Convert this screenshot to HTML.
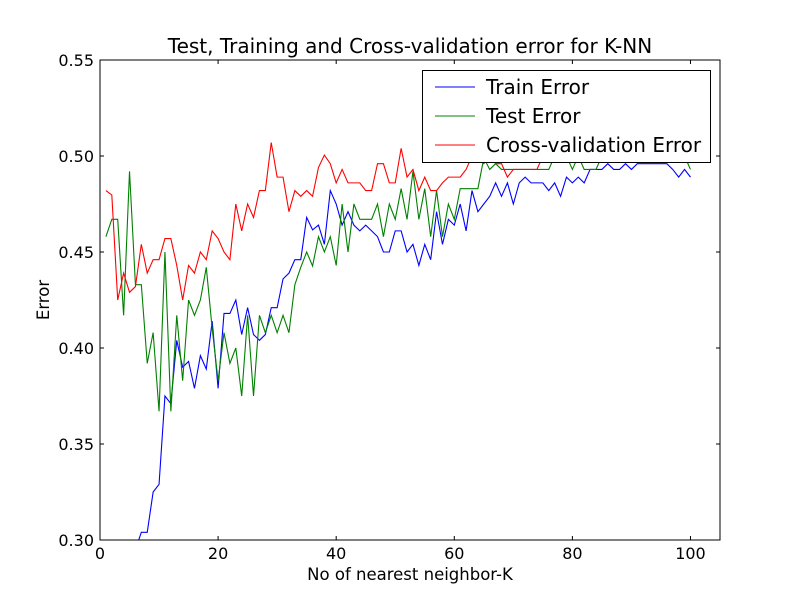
<!DOCTYPE html>
<html><head><meta charset="utf-8"><style>
body{margin:0;background:#fff;}
svg text{font-family:"DejaVu Sans","Liberation Sans",sans-serif;}
</style></head><body>
<svg id="chart" width="800" height="600" xmlns="http://www.w3.org/2000/svg">
<rect width="800" height="600" fill="#fff"/>
<defs><clipPath id="plotclip"><rect x="100" y="60" width="620" height="480"/></clipPath></defs>
<text x="410" y="53" text-anchor="middle" font-size="20">Test, Training and Cross-validation error for K-NN</text>
<text x="410" y="580" text-anchor="middle" font-size="16.5">No of nearest neighbor-K</text>
<text x="49" y="300" text-anchor="middle" font-size="16.5" transform="rotate(-90 49 300)">Error</text>
<g id="ticks"></g>
<g id="series" clip-path="url(#plotclip)"></g>
<rect x="100" y="60" width="620" height="480" fill="none" stroke="#000" stroke-width="1"/>
<g>
<rect x="422.5" y="70.5" width="288" height="92" fill="#fff" stroke="#000"/>
<line x1="435" y1="87" x2="475" y2="87" stroke="#0000ff"/>
<text x="486" y="94" font-size="20">Train Error</text>
<line x1="435" y1="116" x2="475" y2="116" stroke="#008000"/>
<text x="486" y="123" font-size="20">Test Error</text>
<line x1="435" y1="145" x2="475" y2="145" stroke="#ff0000"/>
<text x="486" y="152" font-size="20">Cross-validation Error</text>
</g>
</svg>
<script>
const xTicks=[0,20,40,60,80,100];
const yTicks=[0.30,0.35,0.40,0.45,0.50,0.55];
const yTickLabels=["0.30","0.35","0.40","0.45","0.50","0.55"];
const trainErr=[0.28,0.28,0.28,0.28,0.29,0.295,0.304,0.304,0.325,0.329,0.375,0.371,0.404,0.390,0.393,0.379,0.396,0.389,0.414,0.379,0.418,0.418,0.425,0.407,0.421,0.407,0.404,0.407,0.421,0.421,0.436,0.439,0.446,0.446,0.468,0.4615,0.464,0.454,0.482,0.475,0.464,0.471,0.464,0.461,0.464,0.461,0.458,0.450,0.450,0.461,0.461,0.450,0.454,0.443,0.454,0.446,0.471,0.454,0.467,0.464,0.475,0.461,0.482,0.471,0.475,0.479,0.486,0.479,0.486,0.475,0.486,0.489,0.486,0.486,0.486,0.482,0.486,0.479,0.489,0.486,0.489,0.486,0.493,0.493,0.493,0.496,0.493,0.493,0.496,0.493,0.496,0.496,0.496,0.496,0.496,0.496,0.493,0.489,0.493,0.489];
const testErr=[0.458,0.467,0.467,0.417,0.492,0.433,0.433,0.392,0.408,0.367,0.450,0.367,0.417,0.383,0.425,0.417,0.425,0.442,0.41,0.383,0.408,0.392,0.400,0.375,0.417,0.375,0.417,0.408,0.417,0.408,0.417,0.408,0.433,0.442,0.450,0.4427,0.458,0.450,0.458,0.443,0.475,0.450,0.475,0.467,0.467,0.467,0.475,0.458,0.475,0.467,0.483,0.467,0.492,0.467,0.483,0.458,0.482,0.458,0.475,0.467,0.483,0.483,0.483,0.483,0.499,0.493,0.496,0.493,0.493,0.493,0.493,0.493,0.493,0.493,0.493,0.493,0.5,0.5,0.5,0.493,0.5,0.493,0.493,0.493,0.5,0.5,0.5,0.5,0.5,0.5,0.5,0.5,0.5,0.5,0.5,0.5,0.5,0.5,0.5,0.493];
const cvErr=[0.482,0.4797,0.425,0.439,0.429,0.432,0.454,0.439,0.446,0.446,0.457,0.457,0.443,0.425,0.443,0.439,0.450,0.446,0.461,0.457,0.450,0.446,0.475,0.461,0.475,0.468,0.482,0.482,0.507,0.489,0.489,0.471,0.482,0.479,0.482,0.479,0.494,0.5005,0.496,0.486,0.493,0.486,0.486,0.486,0.482,0.482,0.496,0.496,0.486,0.486,0.504,0.489,0.493,0.482,0.489,0.482,0.482,0.486,0.489,0.489,0.489,0.493,0.5,0.5,0.496,0.5,0.496,0.496,0.489,0.493,0.493,0.493,0.493,0.493,0.5,0.5,0.504,0.504,0.504,0.504,0.504,0.504,0.504,0.504,0.504,0.504,0.504,0.504,0.504,0.504,0.504,0.504,0.504,0.504,0.504,0.504,0.504,0.504,0.504,0.504];
const NS="http://www.w3.org/2000/svg";
const X0=100,X1=720,Y0=540,Y1=60,XMIN=0,XMAX=105,YMIN=0.30,YMAX=0.55;
function xs(v){return X0+(v-XMIN)/(XMAX-XMIN)*(X1-X0);}
function ys(v){return Y0-(v-YMIN)/(YMAX-YMIN)*(Y0-Y1);}
const tg=document.getElementById('ticks');
xTicks.forEach(t=>{
  const x=xs(t);
  const a=document.createElementNS(NS,'line');
  a.setAttribute('x1',x);a.setAttribute('x2',x);a.setAttribute('y1',540);a.setAttribute('y2',536);a.setAttribute('stroke','#000');
  
  
  tg.appendChild(a);
  const b=document.createElementNS(NS,'line');
  b.setAttribute('x1',x);b.setAttribute('x2',x);b.setAttribute('y1',60);b.setAttribute('y2',64);b.setAttribute('stroke','#000');
  
  
  tg.appendChild(b);
  const l=document.createElementNS(NS,'text');
  l.setAttribute('x',x);l.setAttribute('y',559);l.setAttribute('text-anchor','middle');l.setAttribute('font-size','16');
  l.textContent=String(t);
  
  
  tg.appendChild(l);
});
yTicks.forEach((t,i)=>{
  const y=ys(t);
  const a=document.createElementNS(NS,'line');
  a.setAttribute('x1',100);a.setAttribute('x2',104);a.setAttribute('y1',y);a.setAttribute('y2',y);a.setAttribute('stroke','#000');
  
  
  tg.appendChild(a);
  const b=document.createElementNS(NS,'line');
  b.setAttribute('x1',716);b.setAttribute('x2',720);b.setAttribute('y1',y);b.setAttribute('y2',y);b.setAttribute('stroke','#000');
  
  
  tg.appendChild(b);
  const l=document.createElementNS(NS,'text');
  l.setAttribute('x',94);l.setAttribute('y',y+6);l.setAttribute('text-anchor','end');l.setAttribute('font-size','16');
  l.textContent=yTickLabels[i];
  
  
  tg.appendChild(l);
});
const sg=document.getElementById('series');
function drawLine(vals,color,name){
  const p=document.createElementNS(NS,'polyline');
  p.setAttribute('points',vals.map((v,i)=>xs(i+1).toFixed(2)+','+ys(v).toFixed(2)).join(' '));
  p.setAttribute('fill','none');p.setAttribute('stroke',color);p.setAttribute('stroke-width','1.1');
  
  
  sg.appendChild(p);
}
drawLine(trainErr,'#0000ff','train-error-line');
drawLine(testErr,'#008000','test-error-line');
drawLine(cvErr,'#ff0000','cv-error-line');
</script>
</body></html>
